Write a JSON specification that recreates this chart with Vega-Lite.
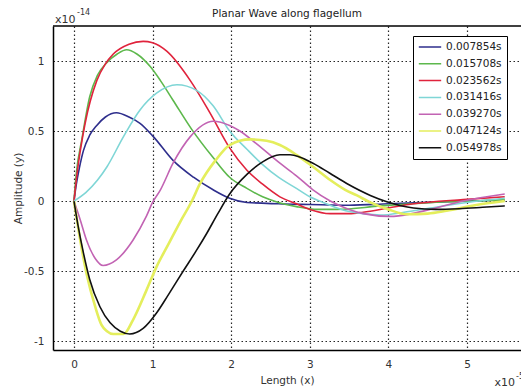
{
  "$schema": "https://vega.github.io/schema/vega-lite/v6.json",
  "width": 468,
  "height": 324,
  "autosize": {"type": "none"},
  "padding": {"left": 53, "top": 26, "right": 0, "bottom": 41},
  "background": "white",
  "config": {
    "font": "DejaVu Sans",
    "view": {"stroke": null},
    "axis": {
      "grid": true, "gridColor": "black", "gridDash": [1.5, 2.5], "gridWidth": 1.2, "gridOpacity": 0.85,
      "domainColor": "black", "domainWidth": 1.5,
      "ticks": false, "tickSize": 0,
      "labelFontSize": 10.5, "labelColor": "#333", "labelFont": "DejaVu Sans",
      "titleFontSize": 10.5, "titleColor": "#333", "titleFontWeight": "normal", "titleFont": "DejaVu Sans"
    },
    "legend": {
      "orient": "none", "legendX": 360, "legendY": 10,
      "strokeColor": "black", "strokeWidth": 1, "fillColor": "white", "padding": 5,
      "symbolType": "stroke", "symbolSize": 500, "symbolStrokeWidth": 1.5,
      "clipHeight": 12, "rowPadding": 4.8, "labelOffset": 4,
      "labelFontSize": 10.5, "labelColor": "#222", "labelFont": "DejaVu Sans"
    }
  },
  "title": {"text": "Planar Wave along flagellum", "fontSize": 10.5, "fontWeight": "normal", "color": "#222", "anchor": "middle", "offset": 0, "dy": 10, "font": "DejaVu Sans"},
  "layer": [
    {
      "data": {"values": [
        {"t":"0.007854s","x":0,"y":0},{"t":"0.007854s","x":0.03,"y":0.12},{"t":"0.007854s","x":0.07,"y":0.24},{"t":"0.007854s","x":0.12,"y":0.36},{"t":"0.007854s","x":0.2,"y":0.47},{"t":"0.007854s","x":0.29,"y":0.54},{"t":"0.007854s","x":0.4,"y":0.6},{"t":"0.007854s","x":0.54,"y":0.63},{"t":"0.007854s","x":0.7,"y":0.6},{"t":"0.007854s","x":0.84,"y":0.555},{"t":"0.007854s","x":1.01,"y":0.46},{"t":"0.007854s","x":1.26,"y":0.29},{"t":"0.007854s","x":1.52,"y":0.17},{"t":"0.007854s","x":1.77,"y":0.08},{"t":"0.007854s","x":1.98,"y":0.02},{"t":"0.007854s","x":2.2,"y":-0.01},{"t":"0.007854s","x":2.6,"y":-0.02},{"t":"0.007854s","x":3.0,"y":-0.025},{"t":"0.007854s","x":3.5,"y":-0.03},{"t":"0.007854s","x":4.0,"y":-0.02},{"t":"0.007854s","x":4.5,"y":-0.01},{"t":"0.007854s","x":5.0,"y":0.0},{"t":"0.007854s","x":5.48,"y":0.005},
        {"t":"0.015708s","x":0,"y":0},{"t":"0.015708s","x":0.03,"y":0.2},{"t":"0.015708s","x":0.1,"y":0.44},{"t":"0.015708s","x":0.2,"y":0.745},{"t":"0.015708s","x":0.3,"y":0.9},{"t":"0.015708s","x":0.42,"y":0.99},{"t":"0.015708s","x":0.55,"y":1.05},{"t":"0.015708s","x":0.67,"y":1.08},{"t":"0.015708s","x":0.8,"y":1.05},{"t":"0.015708s","x":0.97,"y":0.96},{"t":"0.015708s","x":1.1,"y":0.86},{"t":"0.015708s","x":1.26,"y":0.72},{"t":"0.015708s","x":1.5,"y":0.51},{"t":"0.015708s","x":1.77,"y":0.31},{"t":"0.015708s","x":1.98,"y":0.17},{"t":"0.015708s","x":2.2,"y":0.09},{"t":"0.015708s","x":2.4,"y":0.03},{"t":"0.015708s","x":2.6,"y":-0.01},{"t":"0.015708s","x":2.83,"y":-0.04},{"t":"0.015708s","x":3.1,"y":-0.06},{"t":"0.015708s","x":3.35,"y":-0.06},{"t":"0.015708s","x":3.9,"y":-0.035},{"t":"0.015708s","x":4.3,"y":-0.02},{"t":"0.015708s","x":4.74,"y":-0.005},{"t":"0.015708s","x":5.1,"y":0.0},{"t":"0.015708s","x":5.48,"y":0.01},
        {"t":"0.023562s","x":0,"y":0},{"t":"0.023562s","x":0.04,"y":0.2},{"t":"0.023562s","x":0.14,"y":0.55},{"t":"0.023562s","x":0.29,"y":0.86},{"t":"0.023562s","x":0.4,"y":0.98},{"t":"0.023562s","x":0.5,"y":1.05},{"t":"0.023562s","x":0.7,"y":1.12},{"t":"0.023562s","x":0.88,"y":1.14},{"t":"0.023562s","x":1.0,"y":1.13},{"t":"0.023562s","x":1.18,"y":1.07},{"t":"0.023562s","x":1.48,"y":0.86},{"t":"0.023562s","x":1.73,"y":0.63},{"t":"0.023562s","x":1.98,"y":0.38},{"t":"0.023562s","x":2.2,"y":0.22},{"t":"0.023562s","x":2.4,"y":0.12},{"t":"0.023562s","x":2.62,"y":0.03},{"t":"0.023562s","x":2.83,"y":-0.02},{"t":"0.023562s","x":3.0,"y":-0.06},{"t":"0.023562s","x":3.26,"y":-0.09},{"t":"0.023562s","x":3.5,"y":-0.09},{"t":"0.023562s","x":3.68,"y":-0.08},{"t":"0.023562s","x":4.0,"y":-0.05},{"t":"0.023562s","x":4.32,"y":-0.02},{"t":"0.023562s","x":4.95,"y":0.01},{"t":"0.023562s","x":5.48,"y":0.03},
        {"t":"0.031416s","x":0,"y":0},{"t":"0.031416s","x":0.15,"y":0.06},{"t":"0.031416s","x":0.3,"y":0.15},{"t":"0.031416s","x":0.42,"y":0.245},{"t":"0.031416s","x":0.63,"y":0.46},{"t":"0.031416s","x":0.84,"y":0.65},{"t":"0.031416s","x":1.05,"y":0.77},{"t":"0.031416s","x":1.31,"y":0.83},{"t":"0.031416s","x":1.56,"y":0.79},{"t":"0.031416s","x":1.77,"y":0.68},{"t":"0.031416s","x":1.98,"y":0.5},{"t":"0.031416s","x":2.2,"y":0.37},{"t":"0.031416s","x":2.4,"y":0.26},{"t":"0.031416s","x":2.6,"y":0.17},{"t":"0.031416s","x":2.83,"y":0.09},{"t":"0.031416s","x":3.0,"y":0.03},{"t":"0.031416s","x":3.17,"y":-0.01},{"t":"0.031416s","x":3.4,"y":-0.06},{"t":"0.031416s","x":3.68,"y":-0.09},{"t":"0.031416s","x":3.9,"y":-0.1},{"t":"0.031416s","x":4.2,"y":-0.08},{"t":"0.031416s","x":4.53,"y":-0.05},{"t":"0.031416s","x":5.0,"y":-0.01},{"t":"0.031416s","x":5.48,"y":0.02},
        {"t":"0.039270s","x":0,"y":0},{"t":"0.039270s","x":0.08,"y":-0.135},{"t":"0.039270s","x":0.16,"y":-0.28},{"t":"0.039270s","x":0.27,"y":-0.41},{"t":"0.039270s","x":0.37,"y":-0.46},{"t":"0.039270s","x":0.54,"y":-0.42},{"t":"0.039270s","x":0.75,"y":-0.28},{"t":"0.039270s","x":0.92,"y":-0.11},{"t":"0.039270s","x":1.0,"y":-0.01},{"t":"0.039270s","x":1.1,"y":0.08},{"t":"0.039270s","x":1.26,"y":0.27},{"t":"0.039270s","x":1.48,"y":0.46},{"t":"0.039270s","x":1.77,"y":0.57},{"t":"0.039270s","x":1.98,"y":0.54},{"t":"0.039270s","x":2.11,"y":0.5},{"t":"0.039270s","x":2.32,"y":0.41},{"t":"0.039270s","x":2.62,"y":0.27},{"t":"0.039270s","x":2.83,"y":0.18},{"t":"0.039270s","x":3.04,"y":0.08},{"t":"0.039270s","x":3.26,"y":0.0},{"t":"0.039270s","x":3.5,"y":-0.06},{"t":"0.039270s","x":3.68,"y":-0.09},{"t":"0.039270s","x":4.02,"y":-0.11},{"t":"0.039270s","x":4.3,"y":-0.09},{"t":"0.039270s","x":4.53,"y":-0.06},{"t":"0.039270s","x":4.95,"y":0.0},{"t":"0.039270s","x":5.48,"y":0.05},
        {"t":"0.047124s","x":0,"y":0},{"t":"0.047124s","x":0.05,"y":-0.18},{"t":"0.047124s","x":0.16,"y":-0.52},{"t":"0.047124s","x":0.27,"y":-0.755},{"t":"0.047124s","x":0.35,"y":-0.885},{"t":"0.047124s","x":0.42,"y":-0.93},{"t":"0.047124s","x":0.5,"y":-0.95},{"t":"0.047124s","x":0.63,"y":-0.95},{"t":"0.047124s","x":0.75,"y":-0.85},{"t":"0.047124s","x":0.92,"y":-0.64},{"t":"0.047124s","x":1.05,"y":-0.47},{"t":"0.047124s","x":1.2,"y":-0.31},{"t":"0.047124s","x":1.35,"y":-0.15},{"t":"0.047124s","x":1.5,"y":0.0},{"t":"0.047124s","x":1.6,"y":0.12},{"t":"0.047124s","x":1.8,"y":0.29},{"t":"0.047124s","x":1.98,"y":0.4},{"t":"0.047124s","x":2.24,"y":0.44},{"t":"0.047124s","x":2.45,"y":0.43},{"t":"0.047124s","x":2.62,"y":0.4},{"t":"0.047124s","x":2.83,"y":0.33},{"t":"0.047124s","x":3.04,"y":0.245},{"t":"0.047124s","x":3.26,"y":0.15},{"t":"0.047124s","x":3.45,"y":0.08},{"t":"0.047124s","x":3.6,"y":0.04},{"t":"0.047124s","x":3.77,"y":-0.01},{"t":"0.047124s","x":4.0,"y":-0.06},{"t":"0.047124s","x":4.24,"y":-0.095},{"t":"0.047124s","x":4.5,"y":-0.09},{"t":"0.047124s","x":4.74,"y":-0.07},{"t":"0.047124s","x":5.1,"y":-0.03},{"t":"0.047124s","x":5.48,"y":0.0},
        {"t":"0.054978s","x":0,"y":0},{"t":"0.054978s","x":0.05,"y":-0.17},{"t":"0.054978s","x":0.12,"y":-0.37},{"t":"0.054978s","x":0.2,"y":-0.56},{"t":"0.054978s","x":0.33,"y":-0.755},{"t":"0.054978s","x":0.46,"y":-0.87},{"t":"0.054978s","x":0.59,"y":-0.93},{"t":"0.054978s","x":0.71,"y":-0.95},{"t":"0.054978s","x":0.88,"y":-0.91},{"t":"0.054978s","x":1.05,"y":-0.8},{"t":"0.054978s","x":1.2,"y":-0.67},{"t":"0.054978s","x":1.39,"y":-0.5},{"t":"0.054978s","x":1.55,"y":-0.36},{"t":"0.054978s","x":1.69,"y":-0.23},{"t":"0.054978s","x":1.83,"y":-0.09},{"t":"0.054978s","x":1.98,"y":0.05},{"t":"0.054978s","x":2.2,"y":0.19},{"t":"0.054978s","x":2.4,"y":0.28},{"t":"0.054978s","x":2.62,"y":0.33},{"t":"0.054978s","x":2.75,"y":0.33},{"t":"0.054978s","x":3.04,"y":0.27},{"t":"0.054978s","x":3.25,"y":0.2},{"t":"0.054978s","x":3.47,"y":0.125},{"t":"0.054978s","x":3.77,"y":0.04},{"t":"0.054978s","x":3.98,"y":-0.005},{"t":"0.054978s","x":4.32,"y":-0.05},{"t":"0.054978s","x":4.6,"y":-0.06},{"t":"0.054978s","x":4.9,"y":-0.055},{"t":"0.054978s","x":5.2,"y":-0.045},{"t":"0.054978s","x":5.48,"y":-0.035}
      ]},
      "mark": {"type": "line", "interpolate": "monotone"},
      "encoding": {
        "x": {"field": "x", "type": "quantitative", "scale": {"domain": [-0.267, 5.687], "nice": false, "zero": false},
              "axis": {"values": [0, 1, 2, 3, 4, 5], "format": "d", "labelPadding": 9, "title": "Length (x)", "titleY": 30, "titleBaseline": "middle"}},
        "y": {"field": "y", "type": "quantitative", "scale": {"domain": [-1.064, 1.25], "nice": false, "zero": false},
              "axis": {"values": [-1, -0.5, 0, 0.5, 1], "labelExpr": "'' + datum.value", "labelPadding": 9, "title": "Amplitude (y)", "titleX": -35, "titleY": 162, "titleAlign": "center", "titleBaseline": "middle", "titleAngle": -90}},
        "color": {"field": "t", "type": "nominal", "title": null,
                  "scale": {"domain": ["0.007854s", "0.015708s", "0.023562s", "0.031416s", "0.039270s", "0.047124s", "0.054978s"],
                            "range": ["#2e2e8c", "#5db84c", "#e0233c", "#7fd6d6", "#c263b3", "#e4ee5c", "#111111"]}},
        "strokeWidth": {"condition": {"test": "datum.t === '0.047124s'", "value": 2.6}, "value": 1.6}
      }
    },
    {
      "data": {"values": [{}]},
      "mark": {"type": "rule", "color": "black", "strokeWidth": 1.5},
      "encoding": {"y": {"datum": 1.25}}
    },
    {
      "data": {"values": [{}]},
      "mark": {"type": "text", "text": "x10", "align": "left", "baseline": "alphabetic", "dx": 2, "dy": -3, "fontSize": 11, "color": "#333"},
      "encoding": {"x": {"datum": -0.267}, "y": {"datum": 1.25}}
    },
    {
      "data": {"values": [{}]},
      "mark": {"type": "text", "text": "-14", "align": "left", "baseline": "alphabetic", "dx": 24, "dy": -11, "fontSize": 8, "color": "#333"},
      "encoding": {"x": {"datum": -0.267}, "y": {"datum": 1.25}}
    },
    {
      "data": {"values": [{}]},
      "mark": {"type": "text", "text": "x10", "align": "right", "baseline": "alphabetic", "dx": -6, "dy": 36, "fontSize": 11, "color": "#333"},
      "encoding": {"x": {"datum": 5.687}, "y": {"datum": -1.064}}
    },
    {
      "data": {"values": [{}]},
      "mark": {"type": "text", "text": "-5", "align": "left", "baseline": "alphabetic", "dx": -5, "dy": 29, "fontSize": 8, "color": "#333"},
      "encoding": {"x": {"datum": 5.687}, "y": {"datum": -1.064}}
    }
  ]
}
